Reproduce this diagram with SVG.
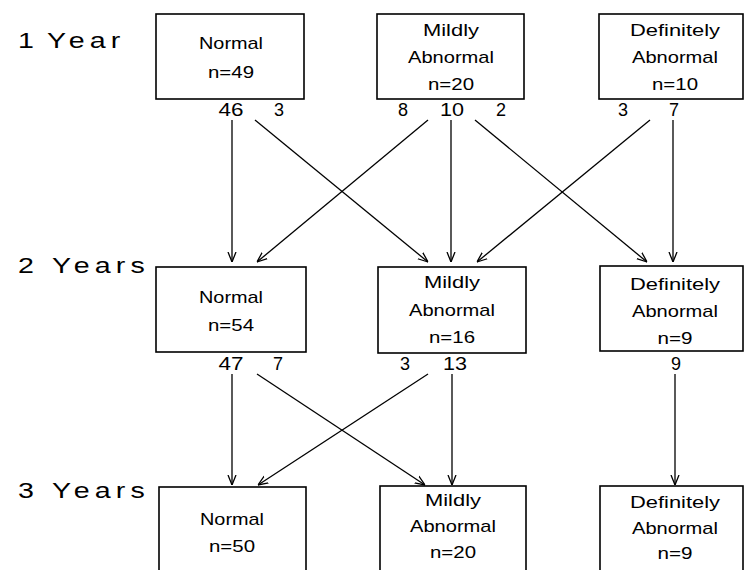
<svg xmlns="http://www.w3.org/2000/svg" width="747" height="570" viewBox="0 0 747 570">
<style>
.box{fill:#fff;stroke:#000;stroke-width:1.6}
.t{font-family:"Liberation Sans",Arial,sans-serif;font-size:17px;text-anchor:middle;fill:#000}
.num{font-family:"Liberation Sans",Arial,sans-serif;font-size:18px;text-anchor:middle;fill:#000}
.yr{font-family:"Liberation Sans",Arial,sans-serif;font-size:22px;letter-spacing:4px;fill:#000}
.c line{stroke:#000;stroke-width:1.3;marker-end:url(#ah)}
</style>
<defs>
<marker id="ah" viewBox="0 0 10 10" refX="10" refY="5" markerWidth="10" markerHeight="10" markerUnits="userSpaceOnUse" orient="auto">
<path d="M0,1 L10,5 L0,9" fill="none" stroke="#000" stroke-width="1.3"/>
</marker>
</defs>
<rect width="747" height="570" fill="#fff"/>
<g id="labels">
<text class="yr" transform="translate(18,48) scale(1.3,1)">1</text>
<text class="yr" transform="translate(47,48) scale(1.3,1)">Year</text>
<text class="yr" transform="translate(18,273) scale(1.3,1)">2</text>
<text class="yr" transform="translate(52,273) scale(1.3,1)">Years</text>
<text class="yr" transform="translate(18,498) scale(1.3,1)">3</text>
<text class="yr" transform="translate(52,498) scale(1.3,1)">Years</text>
</g>
<g id="n1y_normal">
<rect class="box" x="156" y="14" width="148" height="85"/>
<text class="t" x="231" y="49" textLength="64" lengthAdjust="spacingAndGlyphs">Normal</text>
<text class="t" x="231" y="78" textLength="46" lengthAdjust="spacingAndGlyphs">n=49</text>
</g>
<g id="n1y_mild">
<rect class="box" x="377" y="14" width="147" height="85"/>
<text class="t" x="451" y="36" textLength="56" lengthAdjust="spacingAndGlyphs">Mildly</text>
<text class="t" x="451" y="63" textLength="86" lengthAdjust="spacingAndGlyphs">Abnormal</text>
<text class="t" x="451" y="90" textLength="46" lengthAdjust="spacingAndGlyphs">n=20</text>
</g>
<g id="n1y_def">
<rect class="box" x="599" y="14" width="144" height="85"/>
<text class="t" x="675" y="36" textLength="90" lengthAdjust="spacingAndGlyphs">Definitely</text>
<text class="t" x="675" y="63" textLength="86" lengthAdjust="spacingAndGlyphs">Abnormal</text>
<text class="t" x="675" y="90" textLength="46" lengthAdjust="spacingAndGlyphs">n=10</text>
</g>
<g id="n2y_normal">
<rect class="box" x="156" y="267" width="150" height="85"/>
<text class="t" x="231" y="303" textLength="64" lengthAdjust="spacingAndGlyphs">Normal</text>
<text class="t" x="231" y="331" textLength="46" lengthAdjust="spacingAndGlyphs">n=54</text>
</g>
<g id="n2y_mild">
<rect class="box" x="378" y="267" width="148" height="86"/>
<text class="t" x="452" y="288" textLength="56" lengthAdjust="spacingAndGlyphs">Mildly</text>
<text class="t" x="452" y="316" textLength="86" lengthAdjust="spacingAndGlyphs">Abnormal</text>
<text class="t" x="452" y="343" textLength="46" lengthAdjust="spacingAndGlyphs">n=16</text>
</g>
<g id="n2y_def">
<rect class="box" x="600" y="266" width="143" height="85"/>
<text class="t" x="675" y="290" textLength="90" lengthAdjust="spacingAndGlyphs">Definitely</text>
<text class="t" x="675" y="317" textLength="86" lengthAdjust="spacingAndGlyphs">Abnormal</text>
<text class="t" x="675" y="344" textLength="35" lengthAdjust="spacingAndGlyphs">n=9</text>
</g>
<g id="n3y_normal">
<rect class="box" x="159" y="487" width="147" height="110"/>
<text class="t" x="232" y="525" textLength="64" lengthAdjust="spacingAndGlyphs">Normal</text>
<text class="t" x="232" y="552" textLength="46" lengthAdjust="spacingAndGlyphs">n=50</text>
</g>
<g id="n3y_mild">
<rect class="box" x="380" y="486" width="146" height="110"/>
<text class="t" x="453" y="506" textLength="56" lengthAdjust="spacingAndGlyphs">Mildly</text>
<text class="t" x="453" y="532" textLength="86" lengthAdjust="spacingAndGlyphs">Abnormal</text>
<text class="t" x="453" y="558" textLength="46" lengthAdjust="spacingAndGlyphs">n=20</text>
</g>
<g id="n3y_def">
<rect class="box" x="600" y="486" width="143" height="110"/>
<text class="t" x="675" y="508" textLength="90" lengthAdjust="spacingAndGlyphs">Definitely</text>
<text class="t" x="675" y="534" textLength="86" lengthAdjust="spacingAndGlyphs">Abnormal</text>
<text class="t" x="675" y="559" textLength="35" lengthAdjust="spacingAndGlyphs">n=9</text>
</g>
<g id="counts">
<text class="num" x="231" y="116" textLength="25" lengthAdjust="spacingAndGlyphs">46</text>
<text class="num" x="279" y="116">3</text>
<text class="num" x="403" y="116">8</text>
<text class="num" x="452" y="116" textLength="24" lengthAdjust="spacingAndGlyphs">10</text>
<text class="num" x="501" y="116">2</text>
<text class="num" x="623" y="116">3</text>
<text class="num" x="674" y="116">7</text>
<text class="num" x="231" y="370" textLength="25" lengthAdjust="spacingAndGlyphs">47</text>
<text class="num" x="278" y="370">7</text>
<text class="num" x="405" y="370">3</text>
<text class="num" x="455" y="370" textLength="24" lengthAdjust="spacingAndGlyphs">13</text>
<text class="num" x="676" y="370">9</text>
</g>
<g id="connectors" class="c">
<line x1="232" y1="120" x2="232" y2="262"/>
<line x1="255" y1="120" x2="428" y2="262"/>
<line x1="428" y1="120" x2="257" y2="262"/>
<line x1="451" y1="120" x2="451" y2="262"/>
<line x1="475" y1="120" x2="647" y2="262"/>
<line x1="650" y1="120" x2="477" y2="262"/>
<line x1="673" y1="120" x2="673" y2="262"/>
<line x1="232" y1="374" x2="232" y2="485"/>
<line x1="257" y1="374" x2="425" y2="485"/>
<line x1="428" y1="374" x2="258" y2="485"/>
<line x1="452" y1="374" x2="452" y2="485"/>
<line x1="675" y1="374" x2="675" y2="485"/>
</g>
</svg>
